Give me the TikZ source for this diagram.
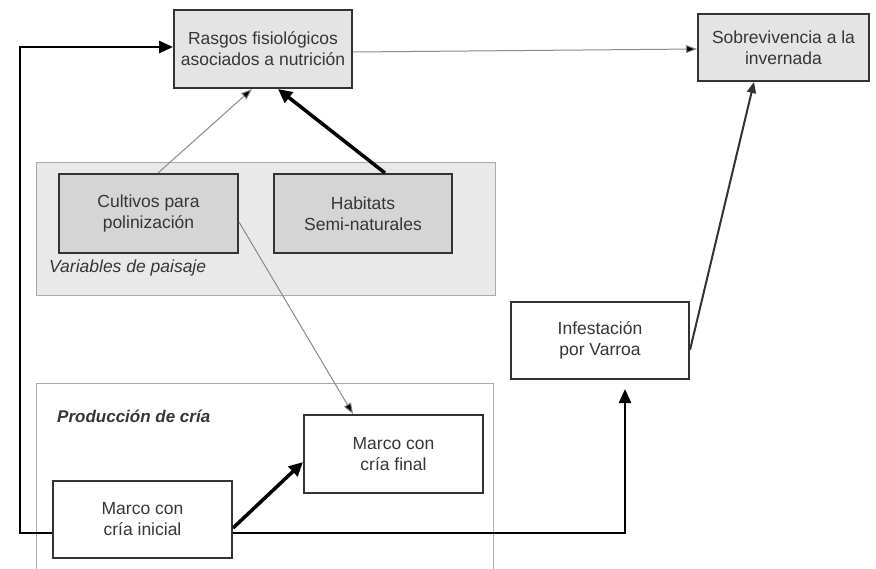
\documentclass[tikz,border=0pt]{standalone}
\usepackage{fontspec}
\setmainfont{Liberation Sans}
\usetikzlibrary{arrows.meta}
\definecolor{txt}{HTML}{363636}
\definecolor{edge}{HTML}{333333}
\definecolor{boxA}{HTML}{E4E4E4}
\definecolor{boxB}{HTML}{D5D5D5}
\definecolor{panelfill}{HTML}{E9E9E9}
\definecolor{panelline}{HTML}{AAAAAA}
\definecolor{thin}{HTML}{8A8A8A}
\tikzset{
  box/.style={draw=edge, line width=2pt, minimum width=#1, align=center, text=txt,
    font=\fontsize{17.5}{21}\selectfont, inner sep=0pt},
  panel/.style={draw=panelline, line width=1pt},
  thinarrow/.style={draw=thin, line width=1pt, -{Triangle[length=11pt,width=8pt,fill=black]}},
  thickarrow/.style={draw=black, line width=3.5pt, -{Triangle[length=14pt,width=13pt]}},
  midarrow/.style={draw=edge, line width=2pt, -{Triangle[length=11pt,width=9pt]}},
  looparrow/.style={draw=black, line width=2.5pt, -{Triangle[length=14pt,width=12pt]}},
  paneltitle/.style={text=txt, font=\fontsize{17.5}{20}\selectfont\itshape, anchor=west, inner sep=0pt}
}
\begin{document}
\begin{tikzpicture}[x=1pt,y=-1pt]
\useasboundingbox (0,0) rectangle (876,568);
% panels
\draw[panel, fill=panelfill] (36,162) rectangle (495,295);
\draw[panel, fill=white] (36,383) rectangle (493,575);
\node[paneltitle] (vp) at (49,268) {Variables de paisaje};
\node[paneltitle, font=\fontsize{17}{20}\selectfont\bfseries\itshape] (pc) at (57,416) {Producción de cría};
% nodes
\node[box=178pt, minimum height=78pt, fill=boxA] (R) at (263,49) {Rasgos fisiológicos\\asociados a nutrición};
\node[box=171pt, minimum height=67pt, fill=boxA] (S) at (783.5,47.5) {Sobrevivencia a la\\invernada};
\node[box=179pt, minimum height=79pt, fill=boxB] (C) at (148.5,213.5) {Cultivos para\\polinización};
\node[box=178pt, minimum height=79pt, fill=boxB] (H) at (363,213.5) {Habitats\\Semi-naturales};
\node[box=178pt, minimum height=77pt, fill=white] (I) at (600,340.5) {Infestación\\por Varroa};
\node[box=179pt, minimum height=78pt, fill=white] (MF) at (393.5,454) {Marco con\\cría final};
\node[box=179pt, minimum height=77pt, fill=white] (MI) at (142.5,519.5) {Marco con\\cría inicial};
% connectors
\draw[thinarrow] ([yshift=-3pt]R.east) -- ([yshift=-1.5pt]S.west);
\draw[thinarrow] ([xshift=9.5pt]C.north) -- ([xshift=-11pt]R.south);
\draw[thickarrow] ([xshift=22pt]H.north) -- ([xshift=15pt]R.south);
\draw[thinarrow] ([yshift=-8.5pt]C.east) -- ([xshift=-40.5pt]MF.north);
\draw[thickarrow] ([yshift=-8.5pt]MI.east) -- ([yshift=-8pt]MF.west);
\draw[midarrow] ([yshift=-9.5pt]I.east) -- ([xshift=-29.5pt]S.south);
\draw[looparrow] ([yshift=-13.5pt]MI.west) -- (20,533) -- (20,47) -- ([yshift=2pt]R.west);
\draw[looparrow, shorten >=9pt] ([yshift=-13.5pt]MI.east) -- (625,533) -- ([xshift=25pt]I.south);
\end{tikzpicture}
\end{document}
